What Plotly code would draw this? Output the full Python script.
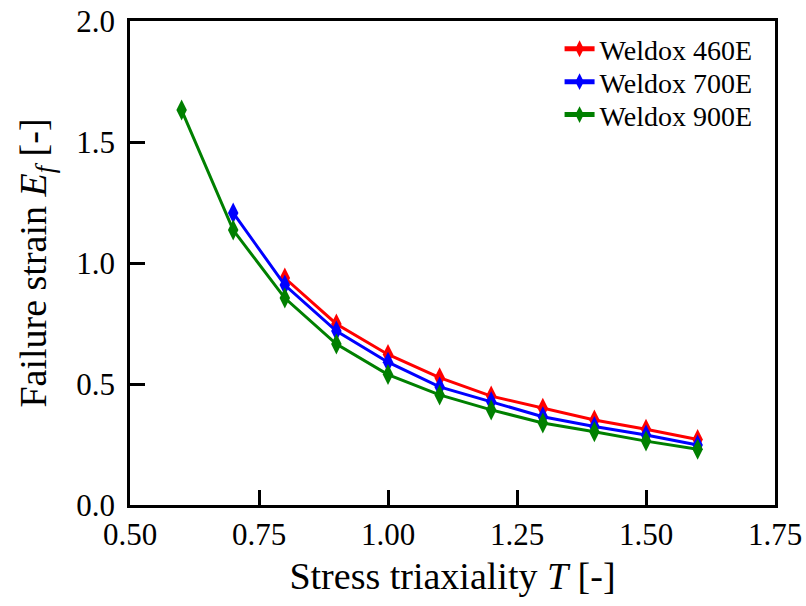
import plotly.graph_objects as go

# Data
T_460 = [0.8, 0.9, 1.0, 1.1, 1.2, 1.3, 1.4, 1.5, 1.6]
E_460 = [0.938, 0.748, 0.622, 0.526, 0.450, 0.400, 0.351, 0.313, 0.271]

T_700 = [0.7, 0.8, 0.9, 1.0, 1.1, 1.2, 1.3, 1.4, 1.5, 1.6]
E_700 = [1.207, 0.909, 0.719, 0.590, 0.488, 0.427, 0.365, 0.324, 0.289, 0.248]

T_900 = [0.6, 0.7, 0.8, 0.9, 1.0, 1.1, 1.2, 1.3, 1.4, 1.5, 1.6]
E_900 = [1.632, 1.136, 0.855, 0.665, 0.539, 0.455, 0.393, 0.339, 0.303, 0.264, 0.230]

names = ["Weldox 460E", "Weldox 700E", "Weldox 900E"]
colors = ["#ff0000", "#0000ff", "#008000"]

x_ticks = [0.50, 0.75, 1.00, 1.25, 1.50, 1.75]
x_ticklabels = ["0.50", "0.75", "1.00", "1.25", "1.50", "1.75"]
y_ticks = [0.0, 0.5, 1.0, 1.5, 2.0]
y_ticklabels = ["0.0", "0.5", "1.0", "1.5", "2.0"]

FONT = "Liberation Serif"
legend_ids = ["legend", "legend2", "legend3"]
legend_y = [0.942, 0.874, 0.806]

fig = go.Figure()
for xs, ys, name, c, lid in zip([T_460, T_700, T_900], [E_460, E_700, E_900], names, colors, legend_ids):
    fig.add_trace(go.Scatter(
        x=xs, y=ys, name=name, mode="lines+markers",
        line=dict(color=c, width=3),
        marker=dict(symbol="diamond-tall", size=15, color=c),
        legend=lid,
    ))

axis_common = dict(
    showgrid=False, zeroline=False, showline=True, linecolor="black", linewidth=2.5,
    mirror=True, ticks="inside", ticklen=15, tickwidth=2.5, tickcolor="black",
    tickfont=dict(family=FONT, size=31, color="black"),
    automargin=False,
)

legend_common = dict(
    x=0.666, xanchor="left", yanchor="middle",
    font=dict(family=FONT, size=28, color="black"),
    bgcolor="rgba(255,255,255,0)", borderwidth=0,
    itemsizing="constant",
)

fig.update_layout(
    width=806, height=606,
    margin=dict(l=130, r=31, t=21, b=101),
    paper_bgcolor="white", plot_bgcolor="white",
    font=dict(family=FONT, color="black"),
    xaxis=dict(
        range=[0.5, 1.75], tickvals=x_ticks, ticktext=x_ticklabels,
        title=dict(text="Stress triaxiality <i>T</i> [-]", font=dict(family=FONT, size=38), standoff=12),
        ticklabelstandoff=0,
        **axis_common,
    ),
    yaxis=dict(
        range=[0.0, 2.0], tickvals=y_ticks, ticktext=y_ticklabels,
        title=dict(text="Failure strain <i>E</i><sub><i>f</i></sub> [-]", font=dict(family=FONT, size=38), standoff=18),
        ticklabelstandoff=6,
        **axis_common,
    ),
    legend=dict(y=legend_y[0], **legend_common),
    legend2=dict(y=legend_y[1], **legend_common),
    legend3=dict(y=legend_y[2], **legend_common),
    showlegend=True,
)

fig.write_html("out.html")
